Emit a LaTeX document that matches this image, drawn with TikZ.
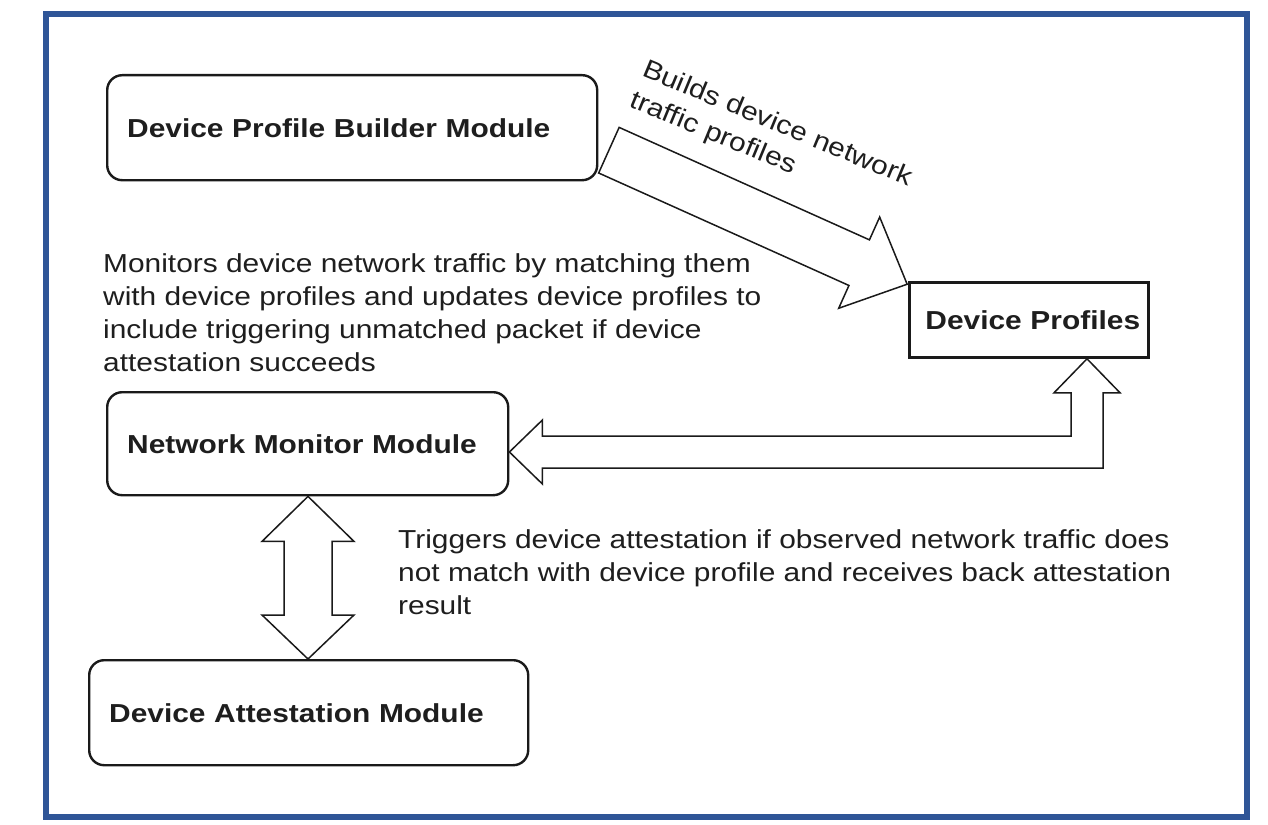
\documentclass[tikz,border=0pt]{standalone}
\usepackage{fontspec}
\setmainfont{Liberation Sans}[FakeStretch=1.15]
\usetikzlibrary{calc}
\definecolor{frameblue}{RGB}{47,85,151}
\definecolor{ink}{RGB}{26,26,26}
\definecolor{txt}{RGB}{30,30,30}
\begin{document}
\begin{tikzpicture}[x=1pt,y=-1pt,
  every node/.style={text=txt, font=\fontsize{26}{33}\selectfont},
  module/.style={draw=ink, line width=2.4pt, rounded corners=15pt, anchor=north west,
    align=left, inner xsep=20pt, inner ysep=0pt, text height=19pt, text depth=0pt,
    font=\fontsize{26}{33}\selectfont\bfseries},
  store/.style={module, rounded corners=0pt, line width=2.8pt},
  blockarrow/.style={draw=ink, line width=1.5pt, fill=white, line join=miter},
  note/.style={anchor=base west, inner sep=0pt}]

% canvas and frame
\useasboundingbox (0,0) rectangle (1268,824);
\fill[white] (0,0) rectangle (1268,824);
\draw[frameblue, line width=6pt] (46,14) rectangle (1247,817);

% modules
\node[module, minimum width=490pt, minimum height=105pt, text width=450pt] (bb) at (106,74) {Device Profile Builder Module};
\node[store, minimum width=239pt, minimum height=75pt, text width=207pt, inner xsep=16pt] (dp) at (908,281) {\mbox{Device Profiles}};
\node[module, minimum width=401pt, minimum height=103pt, text width=361pt] (nm) at (106,391) {Network Monitor Module};
\node[module, minimum width=439pt, minimum height=105pt, text width=399pt] (da) at (88,659) {Device Attestation Module};

% builder -> profiles block arrow
\coordinate (dt) at ($(bb.east)+(10.5,22.5)$);
\begin{scope}[shift={(dt)}, rotate=-24.2]
  \draw[blockarrow] (0,-25) -- (274.4,-25) -- (274.4,-50) -- (327,0) -- (274.4,50) -- (274.4,25) -- (0,25) -- cycle;
\end{scope}
\node[rotate=-22.5, align=left, inner sep=0pt] (bl) at (771,140) {Builds device network\\traffic profiles};

% profiles <-> monitor elbow block arrow
\coordinate (lt) at (nm.east |- 0,452);
\coordinate (ut) at (1087,0 |- dp.south);
\coordinate (ec) at (ut |- lt);
\draw[blockarrow] (lt) -- ($(lt)+(33,-32)$) -- ($(lt)+(33,-16)$) -- ($(ec)+(-16,-16)$)
  -- ($(ut)+(-16,34)$) -- ($(ut)+(-33,34)$) -- (ut) -- ($(ut)+(33,34)$) -- ($(ut)+(16,34)$)
  -- ($(ec)+(16,16)$) -- ($(lt)+(33,16)$) -- ($(lt)+(33,32)$) -- cycle;

% monitor <-> attestation block arrow
\coordinate (vt) at (308,0 |- nm.south);
\coordinate (vb) at (308,0 |- da.north);
\draw[blockarrow] (vt) -- ($(vt)+(46,45)$) -- ($(vt)+(24,45)$) -- ($(vb)+(24,-44)$) -- ($(vb)+(46,-44)$)
  -- (vb) -- ($(vb)+(-46,-44)$) -- ($(vb)+(-24,-44)$) -- ($(vt)+(-24,45)$) -- ($(vt)+(-46,45)$) -- cycle;

% descriptions
\node[note] (mt) at (103,272) {\begin{tabular}[t]{@{}l@{}}Monitors device network traffic by matching them\\
with device profiles and updates device profiles to\\
include triggering unmatched packet if device\\
attestation succeeds\end{tabular}};
\node[note] (tt) at (398,548) {\begin{tabular}[t]{@{}l@{}}Triggers device attestation if observed network traffic does\\
not match with device profile and receives back attestation\\
result\end{tabular}};
\end{tikzpicture}
\end{document}
